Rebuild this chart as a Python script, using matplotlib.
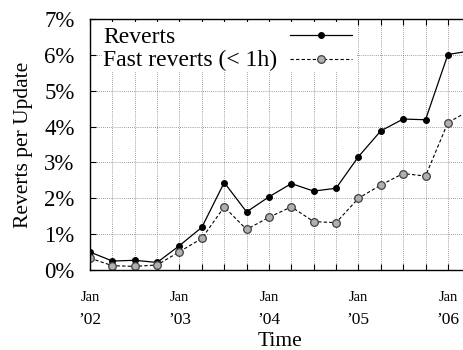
import numpy as np
import matplotlib
matplotlib.use("Agg")
import matplotlib.pyplot as plt
from matplotlib.patches import Rectangle
from matplotlib.transforms import blended_transform_factory

plt.rcParams['font.family'] = ['Liberation Serif', 'DejaVu Serif']

# quarterly points, Jan 2002 .. Apr 2006 (last one runs off the right edge)
quarters = ["2002Q1", "2002Q2", "2002Q3", "2002Q4",
            "2003Q1", "2003Q2", "2003Q3", "2003Q4",
            "2004Q1", "2004Q2", "2004Q3", "2004Q4",
            "2005Q1", "2005Q2", "2005Q3", "2005Q4",
            "2006Q1", "2006Q2"]
reverts = [0.50, 0.25, 0.27, 0.21, 0.68, 1.19, 2.44, 1.62, 2.04,
           2.41, 2.20, 2.28, 3.16, 3.88, 4.21, 4.19, 6.01, 6.11]
fast_reverts = [0.33, 0.12, 0.10, 0.14, 0.51, 0.88, 1.76, 1.13, 1.47,
                1.76, 1.35, 1.32, 2.00, 2.37, 2.69, 2.62, 4.11, 4.46]
year_labels = ["’02", "’03", "’04", "’05", "’06"]
series_names = ["Reverts", "Fast reverts (< 1h)"]

# years since Jan 2002
x = np.array([int(q[:4]) - 2002 + (int(q[-1]) - 1) * 0.25 for q in quarters])

fig = plt.figure(figsize=(4.64, 3.5), dpi=100)
ax = fig.add_axes([0.194, 0.2286, 0.806, 0.7171])
ax.set_axisbelow(True)

solid = dict(color='black', lw=0.9, marker='o', ms=4, mfc='black', mec='black')
dashed = dict(color='black', lw=0.8, ls=(0, (3, 2)), marker='o', ms=5.5,
              mfc='#b0b0b0', mec='#404040', mew=0.9)

ax.plot(x, reverts, **solid)
ax.plot(x, fast_reverts, **dashed)

ax.set_xlim(0, 4.18)
ax.set_ylim(0, 7)
ax.set_yticks(range(8))
ax.set_yticklabels([f"{v}%" for v in range(8)])
ax.set_xticks(np.arange(0, 4.2, 0.25))
ax.set_xticklabels([])
ax.tick_params(axis='both', direction='in', length=4, width=0.8,
               top=True, labelsize=16.5)
ax.tick_params(axis='y', pad=11)
ax.grid(True, color='#808080', ls=(0, (1, 1.5)), lw=0.6)
for s in ax.spines.values():
    s.set_linewidth(1.0)

# two-line year labels under each January
tr = blended_transform_factory(ax.transData, ax.transAxes)
for i, lab in enumerate(year_labels):
    ax.text(i, -0.108, "Jan", transform=tr, ha='center', va='center',
            fontsize=10.5, clip_on=False)
    ax.text(i, -0.199, lab, transform=tr, ha='center', va='center',
            fontsize=12.5, clip_on=False)

fig.text(0.603, 0.025, "Time", ha='center', va='center', fontsize=15.5)
fig.text(0.05, 0.587, "Reverts per Update", rotation=90,
         ha='center', va='center', fontsize=15.5)

# gnuplot-style key: text on the left, sample on the right, white box
ax.add_patch(Rectangle((0.035, 0.789), 0.676, 0.2, transform=ax.transAxes,
                       facecolor='white', edgecolor='none', zorder=1))
for name, style, ty, ly in [(series_names[0], solid, 0.906, 0.936),
                            (series_names[1], dashed, 0.811, 0.841)]:
    ax.text(0.035, ty, name, transform=ax.transAxes, fontsize=17,
            ha='left', va='baseline', zorder=3)
    ax.plot([0.535, 0.618, 0.700], [ly, ly, ly], transform=ax.transAxes,
            markevery=[1], zorder=3, **style)

fig.savefig("out.png", dpi=100)
